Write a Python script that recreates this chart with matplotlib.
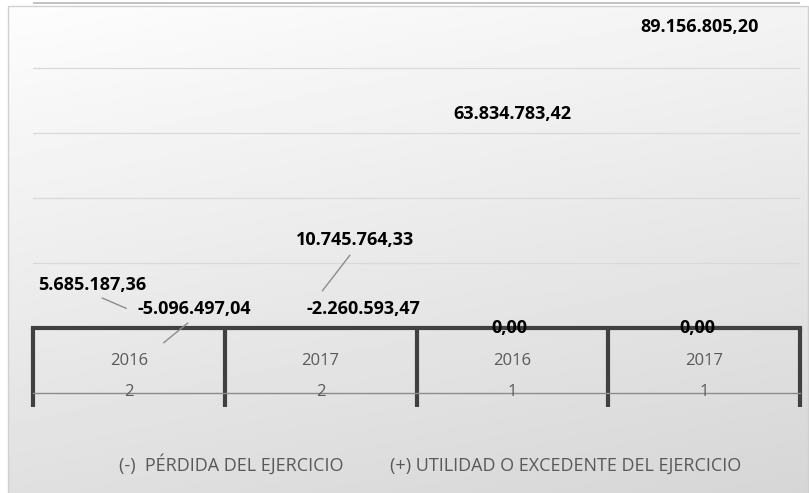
import numpy as np
import matplotlib
matplotlib.use('Agg')
import matplotlib.pyplot as plt

# %% Data
years = ['2016', '2017', '2016', '2017']
groups = ['2', '2', '1', '1']
series_names = ['(-)  PÉRDIDA DEL EJERCICIO', '(+) UTILIDAD O EXCEDENTE DEL EJERCICIO']
perdida = [-5096497.04, -2260593.47, 0.00, 0.00]
utilidad = [5685187.36, 10745764.33, 63834783.42, 89156805.20]

# label offsets (pixels) from each bar end, as the labels were dragged in the original
perdida_off = [(33, 36), (10, 26), (-36, 0), (-39, 0)]
utilidad_off = [(-37, 25), (34, 53), (0, 7), (-5, 11)]
perdida_leader = [True, False, False, False]
utilidad_leader = [True, True, False, False]


def fmt(v):
    # spanish number format 1.234.567,89
    s = f"{abs(v):,.2f}".replace(',', 'X').replace('.', ',').replace('X', '.')
    return ('-' if v < 0 else '') + s


W, H = 809, 493
plt.rcParams['font.family'] = ['Open Sans', 'DejaVu Sans']
fig = plt.figure(figsize=(W / 100, H / 100), dpi=100)
fig.patch.set_facecolor('white')

# %% chart area background (gradient)
bg = fig.add_axes([0, 0, 1, 1], zorder=0)
bg.set_xlim(0, W)
bg.set_ylim(H, 0)
bg.axis('off')
fx = np.linspace(0, 1, 200)
fy = np.linspace(0, 1, 200)
gx, gy = np.meshgrid(fx, fy)
tl, tr, bl, br = 253, 243, 224, 214
grad = (tl * (1 - gx) * (1 - gy) + tr * gx * (1 - gy) + bl * (1 - gx) * gy + br * gx * gy) / 255
bg.imshow(grad, cmap='gray', vmin=0, vmax=1, extent=(8, 808, 493, 6), aspect='auto', interpolation='bilinear')
bg.add_patch(plt.Rectangle((8, 6), 800, 490, fill=False, ec='#d0d0d0', lw=1))

# %% plot area
left, right, bottom = 33, 800, 328
top_val = 100.8e6
px_per = 325 / 100e6
height_px = top_val * px_per
ax = fig.add_axes([left / W, 1 - bottom / H, (right - left) / W, height_px / H], zorder=1)
ax.set_facecolor('none')
ax.set_xlim(-0.5, 3.5)
ax.set_ylim(0, top_val)

x = np.arange(len(years))
xp = x + 0.17
b1 = ax.bar(xp, perdida, width=0.3, color='none', edgecolor='none', label=series_names[0])
b2 = ax.bar(x, utilidad, width=0.3, color='none', edgecolor='none', label=series_names[1])

# gridlines
for g in [20e6, 40e6, 60e6, 80e6]:
    ax.axhline(g, color='#d9d9d9', lw=0.9, zorder=0.5)
ax.axhline(100e6, color='#bdbdbd', lw=1.3, zorder=0.5)

for s in ['left', 'right', 'top']:
    ax.spines[s].set_visible(False)
ax.spines['bottom'].set_color('#404040')
ax.spines['bottom'].set_linewidth(3)
ax.set_yticks([])
ax.set_xticks(np.arange(-0.5, 4, 1))
ax.set_xticklabels([])
ax.tick_params(axis='x', direction='out', length=79 * 0.72, width=3, color='#404040')

# multi level category labels
for i in range(len(years)):
    ax.annotate(years[i], xy=(x[i], 0), xycoords=('data', 'axes fraction'), xytext=(0, -33),
                textcoords='offset pixels', ha='center', va='center', fontsize=12, color='#595959')
    ax.annotate(groups[i], xy=(x[i], 0), xycoords=('data', 'axes fraction'), xytext=(0, -64),
                textcoords='offset pixels', ha='center', va='center', fontsize=12, color='#595959')
ax.plot([-0.5, 3.5], [-65 / height_px, -65 / height_px], transform=ax.get_xaxis_transform(),
        color='#8c8c8c', lw=1, clip_on=False)

# %% data labels
def put_labels(xs, vals, offs, leaders):
    for xi, v, o, ld in zip(xs, vals, offs, leaders):
        ap = None
        if ld:
            ap = dict(arrowstyle='-', color='#8c8c8c', lw=1, relpos=(0.5, 0), shrinkA=3, shrinkB=2)
        ax.annotate(fmt(v), xy=(xi, v), xytext=o, textcoords='offset pixels', ha='center', va='center',
                    fontsize=13, fontweight='bold', color='black', arrowprops=ap, annotation_clip=False,
                    zorder=5)


put_labels(xp, perdida, perdida_off, perdida_leader)
put_labels(x, utilidad, utilidad_off, utilidad_leader)

# %% legend
leg = fig.legend(handles=[b1, b2], loc='center', bbox_to_anchor=(430 / W, 1 - 464 / H), ncol=2,
                 frameon=False, handlelength=0, handletextpad=0, columnspacing=2.6, fontsize=13)
for t in leg.get_texts():
    t.set_color('#595959')

fig.savefig('out.png', dpi=100)
